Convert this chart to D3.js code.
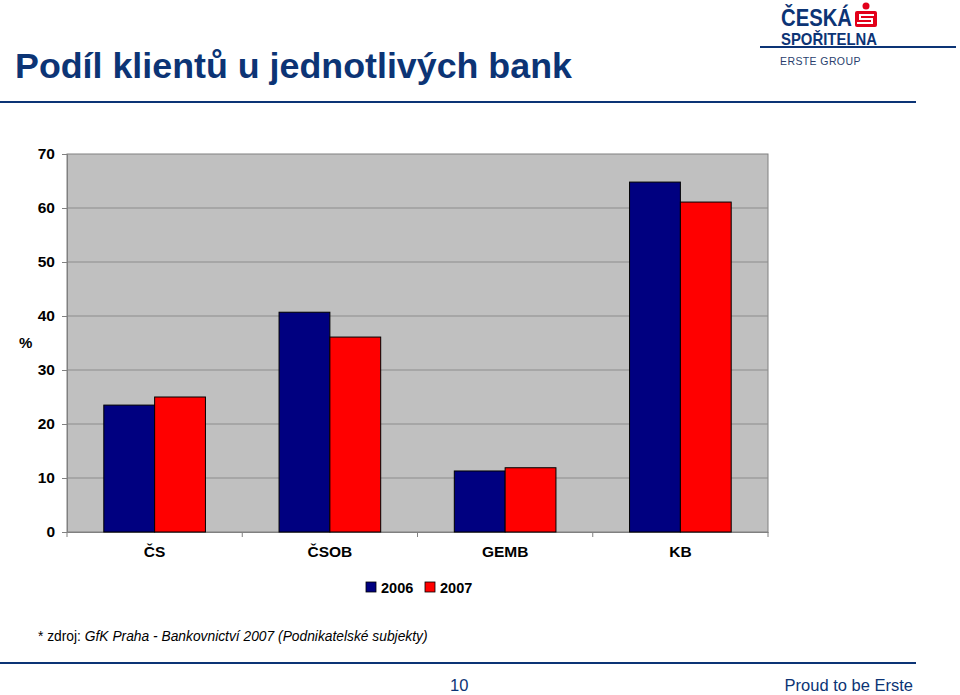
<!DOCTYPE html>
<html>
<head>
<meta charset="utf-8">
<script src="https://cdn.jsdelivr.net/npm/d3@7"></script>
<style>
  body { margin: 0; background: #fff; }
  svg { display: block; font-family: Arial, "Liberation Sans", sans-serif; }
</style>
</head>
<body>
<svg id="chart" width="960" height="695"></svg>
<script>
// data
const banks = ["ČS", "ČSOB", "GEMB", "KB"];
const years = ["2006", "2007"];
const share2006 = [23.5, 40.7, 11.3, 64.8];
const share2007 = [25.0, 36.1, 11.9, 61.1];
const yTicks = [0, 10, 20, 30, 40, 50, 60, 70];
const yearColors = ["#000080", "#ff0000"];

const navy = "#0c3475";
const svg = d3.select("#chart");

// header
svg.append("text")
    .attr("x", 15).attr("y", 78)
    .attr("font-size", 35.8).attr("font-weight", "bold")
    .attr("fill", navy)
    .text("Podíl klientů u jednotlivých bank");

svg.append("line")
    .attr("x1", 0).attr("x2", 916).attr("y1", 102).attr("y2", 102)
    .attr("stroke", navy).attr("stroke-width", 2);

// logo (rough)
let logo = svg.append("g");
logo.append("text").attr("x", 781).attr("y", 26)
    .attr("font-size", 23.5).attr("font-weight", "bold").attr("fill", navy)
    .attr("textLength", 71).attr("lengthAdjust", "spacingAndGlyphs")
    .text("ČESKÁ");
logo.append("text").attr("x", 781).attr("y", 44.5)
    .attr("font-size", 17).attr("font-weight", "bold").attr("fill", navy)
    .attr("textLength", 96).attr("lengthAdjust", "spacingAndGlyphs")
    .text("SPOŘITELNA");
logo.append("circle").attr("cx", 866).attr("cy", 6).attr("r", 3.5).attr("fill", "#e2001a");
logo.append("rect").attr("x", 855).attr("y", 11).attr("width", 22).attr("height", 16).attr("rx", 2).attr("fill", "#e2001a");
logo.append("path").attr("d", "M874,15 H860 V19 H872 V23 H857").attr("fill", "none")
    .attr("stroke", "#fff").attr("stroke-width", 2);
svg.append("line")
    .attr("x1", 760).attr("x2", 956).attr("y1", 47).attr("y2", 47)
    .attr("stroke", navy).attr("stroke-width", 2);
svg.append("text").attr("x", 780).attr("y", 65)
    .attr("font-size", 10.5).attr("fill", "#2a3f6e").attr("letter-spacing", 0.4)
    .text("ERSTE GROUP");

// chart area
const margin = { top: 154, left: 67, right: 192, bottom: 163 };
const width = 960 - margin.left - margin.right;
const height = 695 - margin.top - margin.bottom;

const g = svg.append("g")
    .attr("transform", "translate(" + margin.left + "," + margin.top + ")");

const x = d3.scaleBand().domain(banks).range([0, width]).paddingInner(0).paddingOuter(0);
const x1 = d3.scaleBand().domain(years).range([x.bandwidth() * 0.21, x.bandwidth() * 0.79]);
const y = d3.scaleLinear().domain([0, 70]).range([height, 0]);

g.append("rect")
    .attr("width", width).attr("height", height)
    .attr("fill", "#c0c0c0").attr("stroke", "#808080").attr("stroke-width", 1);

g.selectAll(".grid")
    .data(yTicks.filter(d => d > 0 && d < 70))
    .enter().append("line")
    .attr("class", "grid")
    .attr("x1", 0).attr("x2", width)
    .attr("y1", d => y(d)).attr("y2", d => y(d))
    .attr("stroke", "#8c8c8c").attr("stroke-width", 1);

// y axis
const yAxis = g.append("g")
    .call(d3.axisLeft(y).tickValues(yTicks).tickSize(5).tickPadding(7));
yAxis.select(".domain").attr("stroke", "#808080");
yAxis.selectAll(".tick line").attr("stroke", "#808080");
yAxis.selectAll("text")
    .attr("font-size", 15.5).attr("font-weight", "bold").attr("fill", "#000")
    .attr("font-family", "Arial, 'Liberation Sans', sans-serif");

svg.append("text").attr("x", 19).attr("y", 348)
    .attr("font-size", 15).attr("font-weight", "bold").attr("fill", "#000").text("%");

// x axis
const xAxis = g.append("g")
    .attr("transform", "translate(0," + height + ")")
    .call(d3.axisBottom(x).tickSize(0).tickPadding(14));
xAxis.select(".domain").attr("stroke", "#808080");
xAxis.selectAll("text")
    .attr("font-size", 15.5).attr("font-weight", "bold").attr("fill", "#000")
    .attr("font-family", "Arial, 'Liberation Sans', sans-serif");
g.selectAll(".xsep")
    .data(d3.range(banks.length + 1))
    .enter().append("line")
    .attr("x1", i => i * x.step()).attr("x2", i => i * x.step())
    .attr("y1", height).attr("y2", height + 5)
    .attr("stroke", "#808080");

// bars
const rows = banks.map((b, i) => ({ bank: b, values: [share2006[i], share2007[i]] }));
const groups = g.selectAll(".grp")
    .data(rows)
    .enter().append("g")
    .attr("transform", d => "translate(" + x(d.bank) + ",0)");

groups.selectAll("rect")
    .data(d => d.values.map((v, k) => ({ year: years[k], v: v, k: k })))
    .enter().append("rect")
    .attr("x", d => x1(d.year))
    .attr("width", x1.bandwidth())
    .attr("y", d => y(d.v))
    .attr("height", d => height - y(d.v))
    .attr("fill", d => yearColors[d.k])
    .attr("stroke", "#000").attr("stroke-width", 1);

// legend
const legend = svg.append("g").attr("transform", "translate(366,582)");
years.forEach((yr, i) => {
    legend.append("rect")
        .attr("x", i * 59).attr("y", 0).attr("width", 10).attr("height", 10)
        .attr("fill", yearColors[i]).attr("stroke", "#000").attr("stroke-width", 0.8);
    legend.append("text")
        .attr("x", i * 59 + 15).attr("y", 11)
        .attr("font-size", 14.5).attr("font-weight", "bold").text(yr);
});

// footer
const src = svg.append("text").attr("x", 38).attr("y", 641).attr("font-size", 13.8).attr("fill", "#000");
src.append("tspan").text("* zdroj: ");
src.append("tspan").attr("font-style", "italic").text("GfK Praha - Bankovnictví 2007 (Podnikatelské subjekty)");

svg.append("line")
    .attr("x1", 0).attr("x2", 916).attr("y1", 663).attr("y2", 663)
    .attr("stroke", navy).attr("stroke-width", 2);

svg.append("text").attr("x", 450).attr("y", 691)
    .attr("font-size", 16.5).attr("fill", navy).text("10");
svg.append("text").attr("x", 913).attr("y", 691).attr("text-anchor", "end")
    .attr("font-size", 16.5).attr("fill", navy).text("Proud to be Erste");
</script>
</body>
</html>
